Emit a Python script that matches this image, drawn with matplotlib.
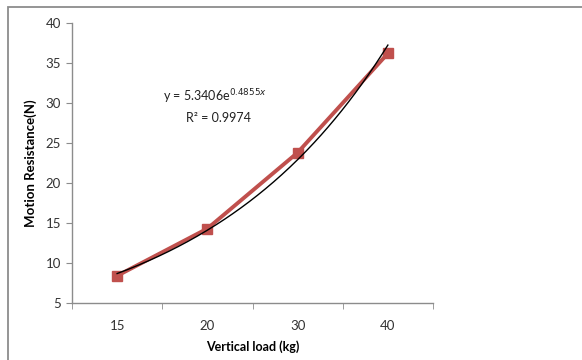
import numpy as np
import matplotlib.pyplot as plt
from matplotlib.patches import Rectangle

# data
loads = ["15", "20", "30", "40"]
resistance = [8.4, 14.3, 23.8, 36.2]

# exponential trendline shown on the chart (Excel, x = category index 1..4)
trend_a = 5.3406
trend_b = 0.4855

plt.rcParams["font.family"] = ["Lato", "DejaVu Sans"]

fig = plt.figure(figsize=(5.82, 3.6), dpi=100)

# outer chart frame
fig.patches.append(Rectangle((8 / 582, -0.1), 1.2, 1 - 7 / 360 + 0.1,
                             transform=fig.transFigure, fill=False,
                             edgecolor="#8c8c8c", linewidth=1.3))

ax = fig.add_axes([72 / 582, 1 - 303 / 360, (433 - 72) / 582, (303 - 23) / 360])

x = np.arange(1, len(loads) + 1)
xt = np.linspace(1, 4, 200)
ax.plot(xt, trend_a * np.exp(trend_b * xt), color="black", linewidth=1.0, zorder=3)
ax.plot(x, resistance, color="#c0504d", linewidth=2.8, marker="s",
        markersize=7, zorder=2)

ax.set_xlim(0.5, 4.5)
ax.set_ylim(5, 40)
ax.set_yticks(range(5, 41, 5))
ax.set_xticks(x)
ax.set_xticklabels(loads)
ax.set_xticks(np.arange(0.5, 4.6, 1), minor=True)
ax.tick_params(axis="x", which="major", length=0, pad=12, labelsize=9.5, colors="#333333")
ax.tick_params(axis="x", which="minor", length=4, color="#8c8c8c", direction="out")
ax.tick_params(axis="y", length=4, color="#8c8c8c", labelsize=9.5, labelcolor="#333333", pad=4)

for side in ["top", "right"]:
    ax.spines[side].set_visible(False)
for side in ["left", "bottom"]:
    ax.spines[side].set_color("#8c8c8c")
    ax.spines[side].set_linewidth(1.0)

ax.set_xlabel("Vertical load (kg)", fontsize=9, fontweight="bold", labelpad=6)
ax.set_ylabel("Motion Resistance(N)", fontsize=9.5, fontweight="bold", labelpad=6)

ax.text(2.08, 30.2, "y = 5.3406e$^{0.4855x}$", fontsize=9, ha="center", color="#222222")
ax.text(2.12, 27.6, "R² = 0.9974", fontsize=9, ha="center", color="#222222")

fig.savefig("out.png", dpi=100)
